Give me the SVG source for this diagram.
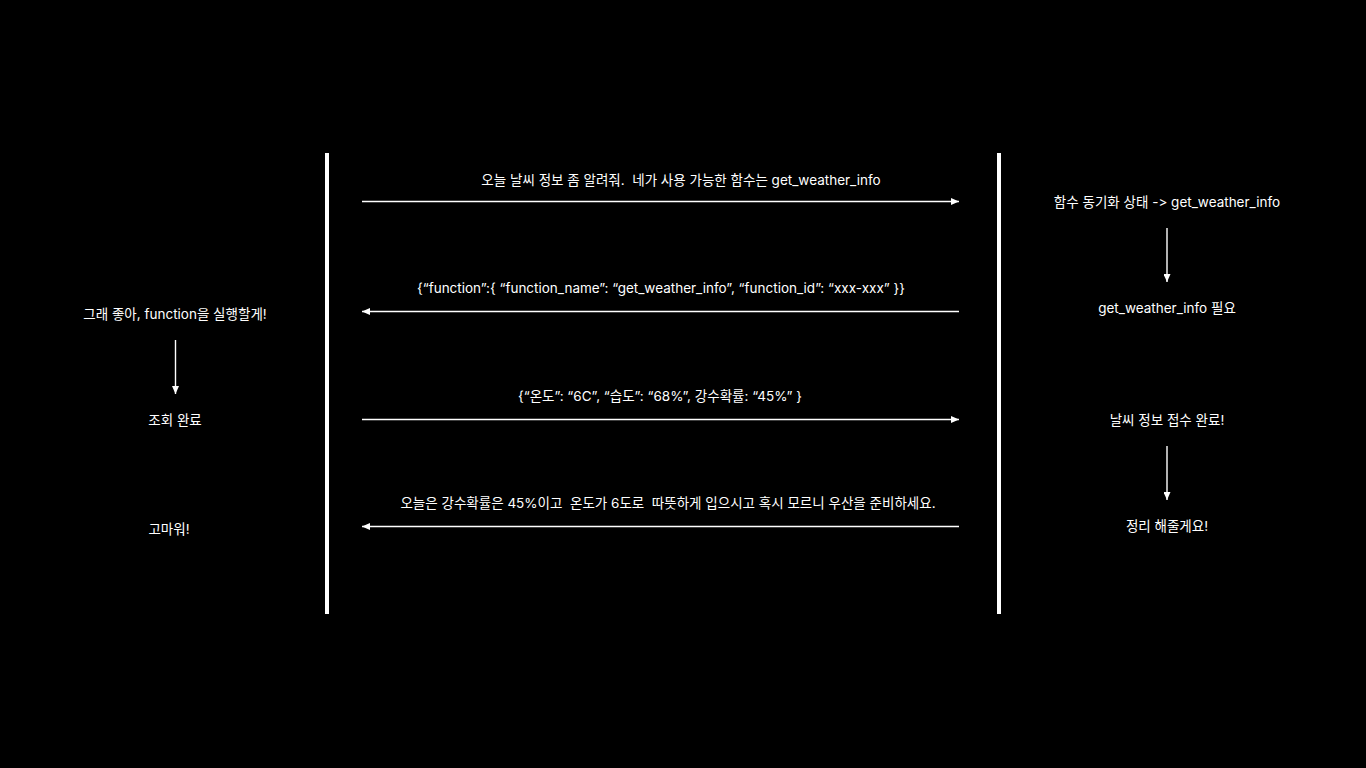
<svg xmlns="http://www.w3.org/2000/svg" width="1366" height="768" viewBox="0 0 1366 768">
<defs>
<style>
text{font-family:"Inter","Noto Sans CJK KR","Noto Sans",sans-serif;font-size:13.5px;fill:#ffffff;text-anchor:middle;white-space:pre}
.life{stroke:#ffffff;stroke-width:4}
.msg{stroke:#ffffff;stroke-width:1.4;fill:none}
</style>
<marker id="ah" viewBox="0 0 8 7" refX="8" refY="3.5" markerWidth="8" markerHeight="7" markerUnits="userSpaceOnUse" orient="auto">
<path d="M0,0 L8,3.5 L0,7 Z" fill="#ffffff"/>
</marker>
</defs>
<rect width="1366" height="768" fill="#000000"/>
<g id="lifelines">
<line class="life" x1="327" y1="153" x2="327" y2="614"/>
<line class="life" x1="999" y1="153" x2="999" y2="614"/>
</g>
<g id="connectors">
<line class="msg" x1="362" y1="201.5" x2="959" y2="201.5" marker-end="url(#ah)"/>
<line class="msg" x1="959" y1="311.5" x2="362" y2="311.5" marker-end="url(#ah)"/>
<line class="msg" x1="362" y1="419.5" x2="959" y2="419.5" marker-end="url(#ah)"/>
<line class="msg" x1="959" y1="526.5" x2="362" y2="526.5" marker-end="url(#ah)"/>
<line class="msg" x1="1167" y1="228" x2="1167" y2="282" marker-end="url(#ah)"/>
<line class="msg" x1="1167" y1="446" x2="1167" y2="500" marker-end="url(#ah)"/>
<line class="msg" x1="175.5" y1="340" x2="175.5" y2="394" marker-end="url(#ah)"/>
</g>
<g id="msg1"><text x="681" y="185" xml:space="preserve">오늘 날씨 정보 좀 알려줘.  네가 사용 가능한 함수는 get_weather_info</text></g>
<g id="msg2"><text x="661" y="293">{“function”:{ “function_name”: “get_weather_info”, “function_id”: “xxx-xxx” }}</text></g>
<g id="msg3"><text x="660" y="401">{“온도”: “6C”, “습도”: “68%”, 강수확률: “45%” }</text></g>
<g id="msg4"><text x="668" y="508" xml:space="preserve">오늘은 강수확률은 45%이고  온도가 6도로  따뜻하게 입으시고 혹시 모르니 우산을 준비하세요.</text></g>
<g id="r1"><text x="1167" y="207">함수 동기화 상태 -&gt; get_weather_info</text></g>
<g id="r2"><text x="1167" y="313">get_weather_info 필요</text></g>
<g id="r3"><text x="1167" y="425">날씨 정보 접수 완료!</text></g>
<g id="r4"><text x="1167" y="531">정리 해줄게요!</text></g>
<g id="l1"><text x="175" y="319">그래 좋아, function을 실행할게!</text></g>
<g id="l2"><text x="175" y="425">조회 완료</text></g>
<g id="l3"><text x="169" y="534">고마워!</text></g>
</svg>
